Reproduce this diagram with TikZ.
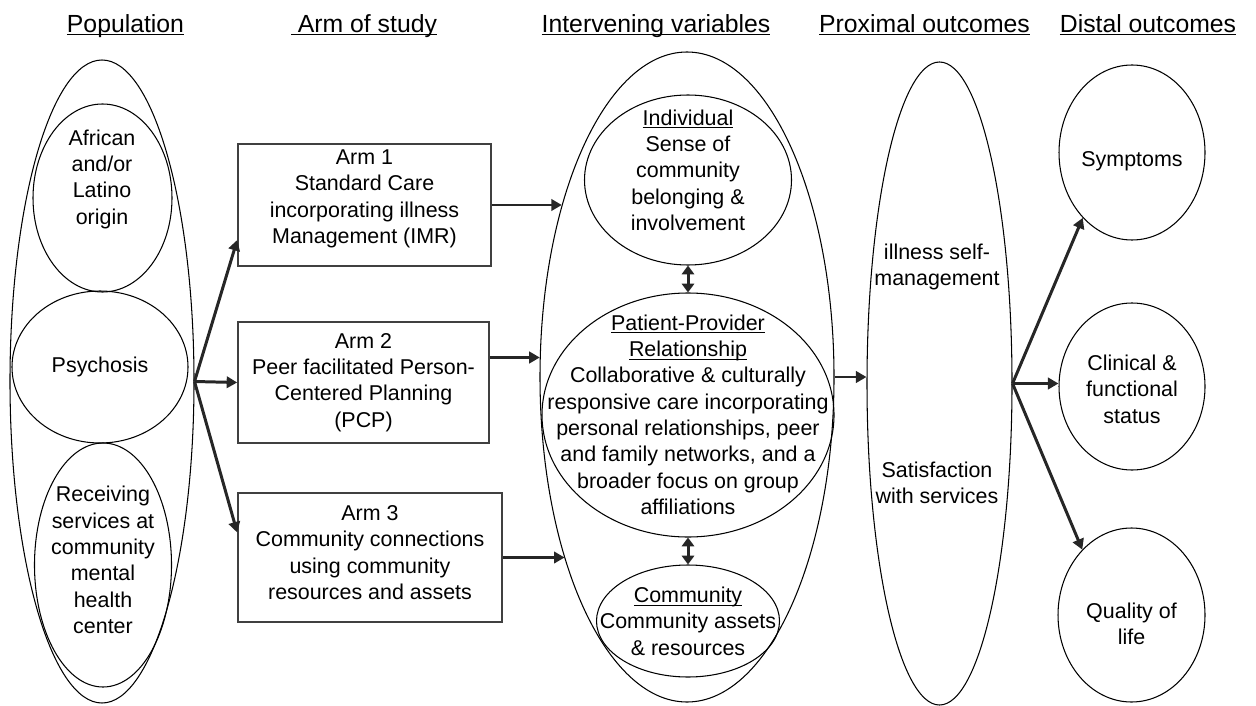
\documentclass[tikz,border=0pt]{standalone}
\usepackage{fontspec}
\setmainfont{Liberation Sans}
\usepackage{tikz}
\usetikzlibrary{calc,arrows.meta,positioning,shapes.geometric}
\newcommand{\bodyfont}{\fontsize{12.2}{15.0}\selectfont}
\newcommand{\headfont}{\fontsize{14.1}{17}\selectfont}
\newcommand{\ulin}[1]{\underline{\smash{#1}}}

\begin{document}
\begin{tikzpicture}[
 oval/.style={draw, ellipse, line width=0.6pt, inner sep=0pt},
 box/.style={draw=black!75, line width=0.9pt, inner sep=0pt, align=center, font=\bodyfont},
 txt/.style={align=center, inner sep=0pt, font=\bodyfont},
 hdr/.style={inner sep=0pt, font=\headfont},
 arr/.style={-{Triangle[length=6pt, width=6.5pt]}, line width=1.7pt, black!85},
 dbl/.style={{Triangle[length=5pt, width=7pt]}-{Triangle[length=5pt, width=7pt]}, line width=1.7pt, black!85}
]
\useasboundingbox (0,0) rectangle (25.12,-14.12);

% Headings
\node[hdr] (hpop) at (2.51,-0.68) {\ulin{Population}};
\node[hdr] (harm) at (7.28,-0.68) {\ulin{~Arm of study}};
\node[hdr] (hint) at (13.12,-0.68) {\ulin{Intervening variables}};
\node[hdr] (hpro) at (18.49,-0.68) {\ulin{Proximal outcomes}};
\node[hdr] (hdis) at (22.96,-0.68) {\ulin{Distal outcomes}};

% Population
\node[oval, minimum width=3.68cm, minimum height=12.86cm] (pop) at (2.04,-7.63) {};
\node[oval, minimum width=2.78cm, minimum height=3.76cm] (afr) at (2.05,-3.96) {};
\node[oval, minimum width=3.52cm, minimum height=3.04cm] (psy) at (2.00,-7.34) {};
\node[oval, minimum width=2.74cm, minimum height=4.88cm] (rcv) at (2.06,-11.30) {};
\node[txt] (afrt) at (2.04,-3.58) {African\\and/or\\Latino\\origin};
\node[txt] (psyt) at (psy) {Psychosis};
\node[txt] (rcvt) at (2.06,-11.20) {Receiving\\services at\\community\\mental\\health\\center};

% Arms of study
\node[box, minimum width=5.06cm, minimum height=2.44cm, text depth=0.33cm] (arm1) at (7.29,-4.10)
 {Arm 1\\Standard Care\\incorporating illness\\Management (IMR)};
\node[box, minimum width=5.02cm, minimum height=2.42cm] (arm2) at (7.27,-7.65)
 {Arm 2\\Peer facilitated Person-\\Centered Planning\\(PCP)};
\node[box, minimum width=5.28cm, minimum height=2.58cm, text depth=0.2cm] (arm3) at (7.40,-11.15)
 {Arm 3\\Community connections\\using community\\resources and assets};

\draw[arr] (pop.east) -- ([yshift=-0.7cm]arm1.west);
\draw[arr] (pop.east) -- (arm2.west);
\draw[arr] (pop.east) -- ([yshift=0.5cm]arm3.west);

% Intervening variables
\node[oval, minimum width=5.88cm, minimum height=13.0cm] (iv) at (13.74,-7.54) {};
\node[oval, minimum width=4.14cm, minimum height=3.40cm] (ind) at (13.76,-3.60) {};
\node[oval, minimum width=5.84cm, minimum height=4.88cm] (pp) at (13.76,-8.30) {};
\node[oval, minimum width=3.66cm, minimum height=2.24cm] (com) at (13.76,-12.42) {};
\node[txt] (indt) at (13.76,-3.56) {\ulin{Individual}\\Sense of\\community\\belonging \&\\involvement};
\node[txt] (ppt) at (13.76,-8.45) {\ulin{Patient-Provider}\\\ulin{Relationship}\\Collaborative \& culturally\\responsive care incorporating\\personal relationships, peer\\and family networks, and a\\broader focus on group\\affiliations};
\node[txt] (comt) at (13.76,-12.58) {\ulin{Community}\\Community assets\\\& resources};

\draw[dbl] (ind.south) -- (pp.north);
\draw[dbl] (pp.south) -- (com.north);

\draw[arr] (arm1.east) -- (arm1.east -| iv.126);
\draw[arr] ([yshift=0.5cm]arm2.east) -- ([yshift=0.5cm]arm2.east -| iv.172);
\draw[arr] (arm3.east) -- (arm3.east -| iv.236);

% Proximal outcomes
\node[oval, minimum width=2.90cm, minimum height=12.86cm] (prox) at (18.79,-7.67) {};
\node[txt] (selft) at (18.74,-5.34) {illness self-\\management};
\node[txt] (satt) at (18.74,-9.66) {Satisfaction\\with services};

\draw[arr] (iv.east) -- (iv.east -| prox.west);

% Distal outcomes
\node[oval, minimum width=2.92cm, minimum height=3.50cm] (sym) at (22.64,-3.05) {};
\node[oval, minimum width=2.92cm, minimum height=3.34cm] (clin) at (22.64,-7.73) {};
\node[oval, minimum width=2.94cm, minimum height=3.48cm] (qol) at (22.63,-12.30) {};
\node[txt] (symt) at (22.64,-3.22) {Symptoms};
\node[txt] (clint) at (22.64,-7.78) {Clinical \&\\functional\\status};
\node[txt] (qolt) at (22.63,-12.48) {Quality of\\life};

\draw[arr] (prox.east) -- (sym.233);
\draw[arr] (prox.east) -- (prox.east -| clin.west);
\draw[arr] (prox.east) -- (qol.127);
\end{tikzpicture}
\end{document}
